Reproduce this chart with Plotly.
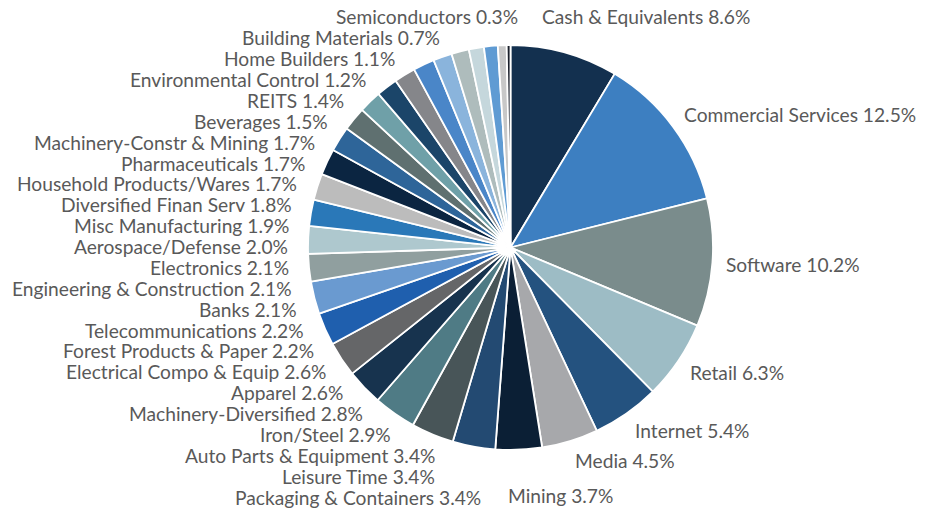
import math
import plotly.graph_objects as go

sectors = [
    "Cash & Equivalents", "Commercial Services", "Software", "Retail", "Internet",
    "Media", "Mining", "Packaging & Containers", "Leisure Time", "Auto Parts & Equipment",
    "Iron/Steel", "Machinery-Diversified", "Apparel", "Electrical Compo & Equip",
    "Forest Products & Paper", "Telecommunications", "Banks", "Engineering & Construction",
    "Electronics", "Aerospace/Defense", "Misc Manufacturing", "Diversified Finan Serv",
    "Household Products/Wares", "Pharmaceuticals", "Machinery-Constr & Mining",
    "Beverages", "REITS", "Environmental Control", "Home Builders",
    "Building Materials", "Semiconductors",
]
weights = [
    8.6, 12.5, 10.2, 6.3, 5.4,
    4.5, 3.7, 3.4, 3.4, 3.4,
    2.9, 2.8, 2.6, 2.6,
    2.2, 2.2, 2.1, 2.1,
    2.1, 2.0, 1.9, 1.8,
    1.7, 1.7, 1.7,
    1.5, 1.4, 1.2, 1.1,
    0.7, 0.3,
]
colors = [
    "#13304f", "#3d7fc1", "#7a8c8c", "#9dbcc5", "#24527f",
    "#a7a8ab", "#0b1f35", "#234a72", "#485558", "#4f7b85",
    "#17334e", "#656668", "#1f5fae", "#6a9ad0",
    "#909f9f", "#aec8ce", "#2a78b8", "#bcbcbc",
    "#0b2541", "#2e6599", "#5f7070", "#6fa0a8",
    "#1b4569", "#85868a", "#4a86c8",
    "#8ab4dc", "#aebcbc", "#c5d7dc", "#5f9bd3",
    "#c8c8c8", "#1a1f2a",
]

W, H = 934, 510
CX, CY, R = 510.5, 247.5, 202.5
FONT = dict(family="Lato", size=19.2, color="#595959")
CHAR_W = 9.2  # approx. average glyph width at this font size

fig = go.Figure(go.Pie(
    labels=sectors, values=weights, sort=False, direction="clockwise", rotation=0,
    marker=dict(colors=colors, line=dict(color="white", width=1.8)),
    textinfo="none", hoverinfo="label+percent",
    domain=dict(x=[(CX - R) / W, (CX + R) / W], y=[1 - (CY + R) / H, 1 - (CY - R) / H]),
    showlegend=False,
))

# label layout derived from slice mid-angles
total = sum(weights)
cum = 0.0
left, right = [], []
RL, RR, TOP, BOT = 220.5, 214.0, 17.0, 497.0
for name, v in zip(sectors, weights):
    mid = (cum + v / 2) / total * 2 * math.pi
    cum += v
    s, c = math.sin(mid), math.cos(mid)
    text = f"{name} {v:.1f}%"
    if s < 0:
        px = CX + RL * s
        py = CY - RL * c - 9 * c
        left.append([py, px, text])
    else:
        px = CX + RR * s
        py = CY - RR * c - 9 * c
        if abs(c) > 0.96:  # labels at the very top / bottom sit beyond the rim, centred more
            py -= 25 * math.copysign(1, c)
            px -= 0.13 * len(text) * CHAR_W
        right.append([py, px, text])


def stack(items, gap):
    items.sort(key=lambda t: t[0])
    for i, it in enumerate(items):
        lo = TOP if i == 0 else items[i - 1][0] + gap
        it[0] = max(it[0], lo)
    for i in range(len(items) - 1, -1, -1):
        hi = BOT if i == len(items) - 1 else items[i + 1][0] - gap
        items[i][0] = min(items[i][0], hi)


stack(left, 20.87)
stack(right, 21.0)

ann = []
for y, px, text in left:
    dy = y - CY
    if abs(dy) < RL:
        x = CX - math.sqrt(RL * RL - dy * dy)
    else:
        x = px + 12
    ann.append(dict(x=x / W, y=1 - y / H, xref="paper", yref="paper", text=text,
                    showarrow=False, xanchor="right", yanchor="middle", font=FONT))
for y, px, text in right:
    ann.append(dict(x=px / W, y=1 - y / H, xref="paper", yref="paper", text=text,
                    showarrow=False, xanchor="left", yanchor="middle", font=FONT))

fig.update_layout(
    width=W, height=H, margin=dict(l=0, r=0, t=0, b=0),
    paper_bgcolor="white", plot_bgcolor="white",
    annotations=ann,
)
fig.write_html("out.html", config={"displayModeBar": False},
               post_script="document.body.style.margin='0px';")
